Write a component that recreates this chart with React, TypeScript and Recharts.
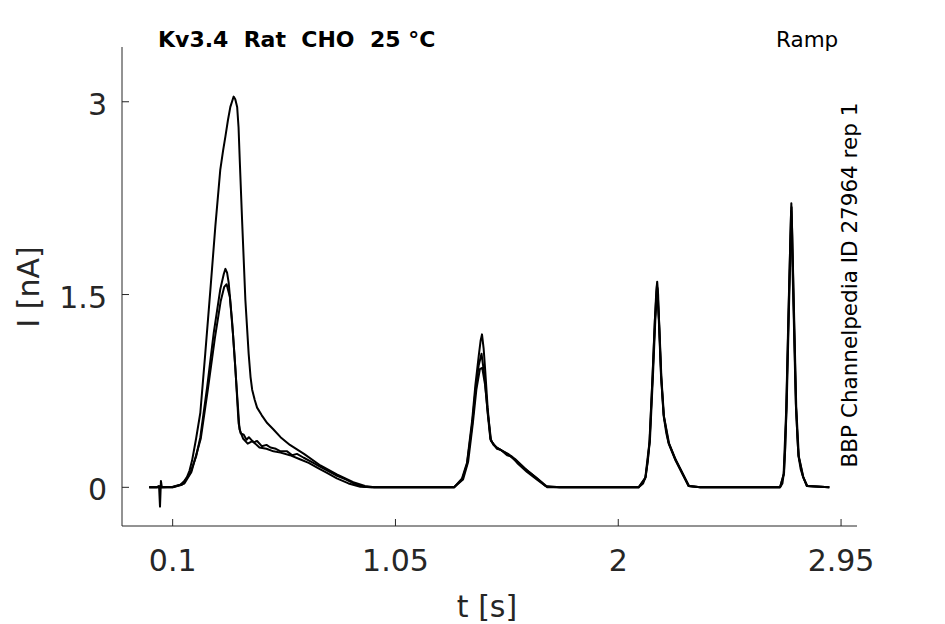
import React from 'react';
import { LineChart, Line, XAxis, YAxis } from 'recharts';

/* Kv3.4 ramp protocol: three overlaid sweeps, current [nA] vs time [s] */

const xTicks = [0.1, 1.05, 2, 2.95];
const yTicks = [0, 1.5, 3];

// sweep with the large first peak (and the capacitive blip near t=0.05)
const sweepA: [number, number][] = [
  [0, 0], [0.03, 0], [0.042, 0.01], [0.046, -0.15], [0.05, 0.05], [0.054, 0],
  [0.1, 0.005], [0.133, 0.02], [0.15, 0.05], [0.161, 0.08], [0.172, 0.13],
  [0.183, 0.21], [0.2, 0.38], [0.218, 0.58], [0.239, 1.04], [0.261, 1.54],
  [0.282, 2.03], [0.303, 2.47], [0.315, 2.62], [0.325, 2.73], [0.336, 2.86],
  [0.346, 2.96], [0.353, 3.0], [0.36, 3.04], [0.367, 3.02], [0.375, 2.96],
  [0.381, 2.8], [0.386, 2.55], [0.396, 2.08], [0.41, 1.46], [0.424, 1.04],
  [0.432, 0.86], [0.439, 0.76], [0.45, 0.68], [0.46, 0.62], [0.48, 0.56],
  [0.503, 0.5], [0.53, 0.45], [0.56, 0.39], [0.6, 0.33], [0.66, 0.26],
  [0.73, 0.17], [0.8, 0.1], [0.87, 0.04], [0.92, 0.01], [0.96, 0],
  [1.3, 0], [1.334, 0.07], [1.355, 0.19], [1.377, 0.52], [1.391, 0.8],
  [1.405, 1.02], [1.413, 1.14], [1.419, 1.19], [1.426, 1.08], [1.433, 0.9],
  [1.443, 0.62], [1.455, 0.38], [1.468, 0.33], [1.483, 0.31], [1.526, 0.26],
  [1.569, 0.2], [1.611, 0.13], [1.654, 0.07], [1.697, 0.005], [1.75, 0],
  [2.087, 0], [2.106, 0.03], [2.116, 0.08], [2.126, 0.2], [2.134, 0.37],
  [2.147, 0.89], [2.157, 1.33], [2.162, 1.52], [2.166, 1.6], [2.17, 1.5],
  [2.174, 1.28], [2.183, 0.86], [2.194, 0.55], [2.205, 0.42], [2.215, 0.34],
  [2.244, 0.21], [2.272, 0.11], [2.3, 0.01], [2.35, 0],
  [2.69, 0], [2.7, 0.03], [2.706, 0.11], [2.712, 0.3], [2.717, 0.63],
  [2.727, 1.41], [2.734, 1.95], [2.738, 2.21], [2.742, 1.95], [2.748, 1.41],
  [2.758, 0.63], [2.764, 0.38], [2.769, 0.24], [2.778, 0.14], [2.788, 0.08],
  [2.805, 0.01], [2.9, 0],
];

const sweepB: [number, number][] = [
  [0, 0], [0.1, 0], [0.14, 0.02], [0.175, 0.11], [0.2, 0.24], [0.218, 0.39],
  [0.247, 0.78], [0.275, 1.2], [0.303, 1.54], [0.318, 1.66], [0.325, 1.7],
  [0.332, 1.67], [0.339, 1.59], [0.353, 1.3], [0.367, 0.94], [0.381, 0.5],
  [0.39, 0.42], [0.403, 0.41], [0.415, 0.37], [0.425, 0.39], [0.445, 0.35],
  [0.46, 0.36], [0.48, 0.32], [0.5, 0.33], [0.517, 0.31], [0.54, 0.3],
  [0.56, 0.28], [0.588, 0.28], [0.61, 0.25], [0.63, 0.26], [0.659, 0.23],
  [0.69, 0.2], [0.73, 0.16], [0.76, 0.13], [0.801, 0.09], [0.84, 0.06],
  [0.872, 0.03], [0.915, 0.005], [0.95, 0],
  [1.3, 0], [1.334, 0.06], [1.355, 0.18], [1.377, 0.49], [1.391, 0.75],
  [1.405, 0.95], [1.417, 1.04], [1.43, 0.86], [1.443, 0.58], [1.455, 0.37],
  [1.47, 0.33], [1.483, 0.3], [1.5, 0.29], [1.526, 0.25], [1.545, 0.24],
  [1.569, 0.19], [1.611, 0.12], [1.654, 0.06], [1.697, 0], [1.75, 0],
  [2.087, 0], [2.117, 0.08], [2.135, 0.36], [2.148, 0.87], [2.158, 1.3],
  [2.167, 1.55], [2.175, 1.26], [2.184, 0.85], [2.195, 0.55], [2.217, 0.34],
  [2.246, 0.21], [2.274, 0.11], [2.302, 0.01], [2.35, 0],
  [2.69, 0], [2.707, 0.11], [2.718, 0.62], [2.728, 1.4], [2.739, 2.18],
  [2.749, 1.4], [2.759, 0.62], [2.77, 0.24], [2.789, 0.08], [2.806, 0.01],
  [2.9, 0],
];

const sweepC: [number, number][] = [
  [0, 0], [0.1, 0], [0.15, 0.03], [0.18, 0.12], [0.22, 0.38], [0.25, 0.76],
  [0.28, 1.16], [0.305, 1.45], [0.32, 1.56], [0.33, 1.58], [0.344, 1.48],
  [0.357, 1.2], [0.37, 0.85], [0.385, 0.45], [0.4, 0.38], [0.42, 0.34],
  [0.44, 0.36], [0.47, 0.31], [0.5, 0.3], [0.53, 0.28], [0.56, 0.27],
  [0.6, 0.25], [0.64, 0.22], [0.68, 0.19], [0.72, 0.15], [0.76, 0.11],
  [0.8, 0.07], [0.85, 0.03], [0.9, 0.005], [0.95, 0],
  [1.3, 0], [1.338, 0.06], [1.36, 0.2], [1.38, 0.5], [1.395, 0.76],
  [1.41, 0.92], [1.42, 0.93], [1.432, 0.8], [1.445, 0.56], [1.458, 0.36],
  [1.48, 0.31], [1.5, 0.29], [1.53, 0.26], [1.56, 0.22], [1.6, 0.15],
  [1.64, 0.09], [1.69, 0.01], [1.75, 0],
  [2.087, 0], [2.115, 0.07], [2.133, 0.35], [2.146, 0.86], [2.156, 1.3],
  [2.165, 1.57], [2.173, 1.3], [2.182, 0.88], [2.193, 0.57], [2.214, 0.35],
  [2.243, 0.22], [2.271, 0.12], [2.3, 0.01], [2.35, 0],
  [2.69, 0], [2.705, 0.1], [2.716, 0.6], [2.726, 1.38], [2.737, 2.15],
  [2.747, 1.42], [2.757, 0.65], [2.768, 0.25], [2.787, 0.09], [2.804, 0.01],
  [2.9, 0],
];

const sweeps = [sweepA, sweepB, sweepC];

const AXIS_COLOR = '#262626';
const FONT = '"DejaVu Sans", sans-serif';

const toRows = (pts: [number, number][]) => pts.map(([t, i]) => ({ t, i }));

function XTick({ x, y, payload }: any) {
  return (
    <g>
      <line x1={x} y1={y} x2={x} y2={y - 7} stroke={AXIS_COLOR} strokeWidth={1} />
      <text x={x} y={y + 45} textAnchor="middle" fontSize={30} fontFamily={FONT} fill={AXIS_COLOR}>
        {payload.value}
      </text>
    </g>
  );
}

function YTick({ x, y, payload }: any) {
  return (
    <g>
      <line x1={x} y1={y} x2={x + 7} y2={y} stroke={AXIS_COLOR} strokeWidth={1} />
      <text x={x - 15} y={y + 13} textAnchor="end" fontSize={30} fontFamily={FONT} fill={AXIS_COLOR}>
        {payload.value}
      </text>
    </g>
  );
}

export default function App() {
  return (
    <div style={{ position: 'relative', width: 945, height: 624, background: '#fff' }}>
      <style>{'body{margin:0}'}</style>
      <LineChart width={945} height={624} margin={{ top: 47, right: 88, left: 62, bottom: 68 }}>
        <XAxis
          dataKey="t"
          type="number"
          domain={[-0.116, 3.018]}
          ticks={xTicks}
          interval={0}
          allowDataOverflow
          height={30}
          tickSize={0}
          tickMargin={0}
          tickLine={false}
          axisLine={{ stroke: AXIS_COLOR, strokeWidth: 1 }}
          tick={<XTick />}
        />
        <YAxis
          type="number"
          domain={[-0.301, 3.426]}
          ticks={yTicks}
          interval={0}
          allowDataOverflow
          width={60}
          tickSize={0}
          tickMargin={0}
          tickLine={false}
          axisLine={{ stroke: AXIS_COLOR, strokeWidth: 1 }}
          tick={<YTick />}
        />
        {sweeps.map((s, idx) => (
          <Line
            key={idx}
            data={toRows(s)}
            dataKey="i"
            type="linear"
            stroke="#000"
            strokeWidth={2}
            strokeLinejoin="round"
            dot={false}
            activeDot={false}
            isAnimationActive={false}
          />
        ))}
      </LineChart>
      <svg
        width={945}
        height={624}
        style={{ position: 'absolute', left: 0, top: 0, pointerEvents: 'none' }}
      >
        <text x={158} y={47} fontSize={22} fontWeight="bold" fontFamily={FONT} fill="#000" xmlSpace="preserve" style={{ whiteSpace: 'pre' }}>
          {'Kv3.4  Rat  CHO  25 °C'}
        </text>
        <text x={776} y={47} fontSize={21.5} fontFamily={FONT} fill="#000">
          Ramp
        </text>
        <text
          x={857}
          y={285}
          fontSize={21.5}
          fontFamily={FONT}
          fill="#000"
          textAnchor="middle"
          transform="rotate(-90 857 285)"
        >
          BBP Channelpedia ID 27964 rep 1
        </text>
        <text x={487} y={617} fontSize={30} fontFamily={FONT} fill={AXIS_COLOR} textAnchor="middle">
          t [s]
        </text>
        <text
          x={39}
          y={287}
          fontSize={30}
          fontFamily={FONT}
          fill={AXIS_COLOR}
          textAnchor="middle"
          transform="rotate(-90 39 287)"
        >
          I [nA]
        </text>
      </svg>
    </div>
  );
}
